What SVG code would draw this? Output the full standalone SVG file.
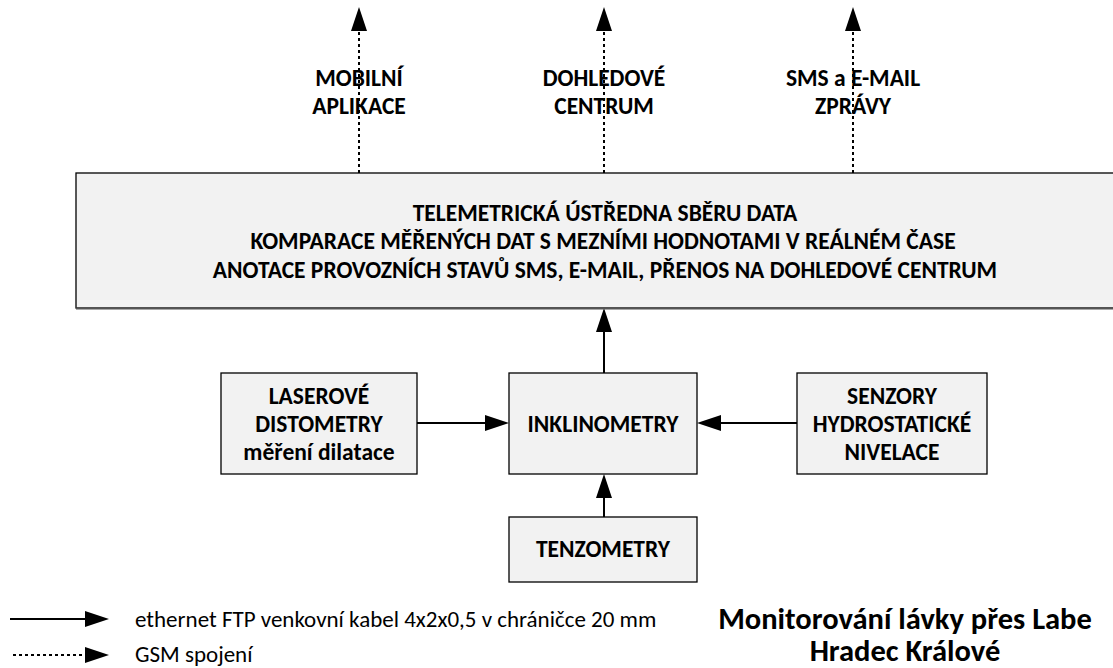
<svg xmlns="http://www.w3.org/2000/svg" width="1113" height="668" viewBox="0 0 1113 668">
<style>
text{font-family:Carlito,"Liberation Sans Narrow","Liberation Sans",sans-serif;fill:#000;text-anchor:middle}
.b{font-weight:bold;font-size:23.5px}
.r{font-size:23px;text-anchor:start}
.t{font-weight:bold;font-size:30.5px}
.box{fill:#f2f2f2;stroke:#000;stroke-width:1.3}
.eth{stroke:#000;stroke-width:2;fill:none}
.gsm{stroke:#000;stroke-width:2;fill:none;stroke-dasharray:3 3}
</style>
<defs>
<marker id="ah" markerUnits="userSpaceOnUse" markerWidth="24" markerHeight="16" refX="0" refY="8" orient="auto" viewBox="0 0 24 16">
<path d="M0,0 L24,8 L0,16 z" fill="#000"/>
</marker>
</defs>
<g id="connectors">
<line class="gsm" x1="359" y1="173" x2="359" y2="31" marker-end="url(#ah)"/>
<line class="gsm" x1="604" y1="173" x2="604" y2="31" marker-end="url(#ah)"/>
<line class="gsm" x1="853" y1="173" x2="853" y2="31" marker-end="url(#ah)"/>
<line class="eth" x1="604" y1="373" x2="604" y2="332" marker-end="url(#ah)"/>
<line class="eth" x1="417" y1="423" x2="485" y2="423" marker-end="url(#ah)"/>
<line class="eth" x1="797" y1="423" x2="721" y2="423" marker-end="url(#ah)"/>
<line class="eth" x1="604" y1="517" x2="604" y2="498" marker-end="url(#ah)"/>
</g>
<g id="labels-top">
<text class="b" x="359" y="86">MOBILNÍ</text>
<text class="b" x="359" y="114">APLIKACE</text>
<text class="b" x="604" y="86">DOHLEDOVÉ</text>
<text class="b" x="604" y="114">CENTRUM</text>
<text class="b" x="853" y="86">SMS a E-MAIL</text>
<text class="b" x="853" y="114">ZPRÁVY</text>
</g>
<g id="telemetrie">
<rect x="76" y="173" width="1050" height="135" class="box"/>
<line x1="76" y1="308.5" x2="1113" y2="308.5" stroke="#555" stroke-width="2"/>
<text class="b" x="605" y="221">TELEMETRICKÁ ÚSTŘEDNA SBĚRU DATA</text>
<text class="b" x="603" y="249">KOMPARACE MĚŘENÝCH DAT S MEZNÍMI HODNOTAMI V REÁLNÉM ČASE</text>
<text class="b" x="605" y="278">ANOTACE PROVOZNÍCH STAVŮ SMS, E-MAIL, PŘENOS NA DOHLEDOVÉ CENTRUM</text>
</g>
<g id="laserove">
<rect x="221" y="373" width="196" height="101" class="box"/>
<text class="b" x="319" y="404">LASEROVÉ</text>
<text class="b" x="319" y="432">DISTOMETRY</text>
<text class="b" x="319" y="460">měření dilatace</text>
</g>
<g id="inklinometry">
<rect x="509" y="373" width="188" height="101" class="box"/>
<text class="b" x="603" y="432">INKLINOMETRY</text>
</g>
<g id="senzory">
<rect x="797" y="373" width="190" height="101" class="box"/>
<text class="b" x="892" y="404">SENZORY</text>
<text class="b" x="892" y="432">HYDROSTATICKÉ</text>
<text class="b" x="892" y="460">NIVELACE</text>
</g>
<g id="tenzometry">
<rect x="509" y="517" width="188" height="65" class="box"/>
<text class="b" x="603" y="557">TENZOMETRY</text>
</g>
<g id="legend">
<line class="eth" x1="10" y1="619" x2="85" y2="619" marker-end="url(#ah)"/>
<line class="gsm" x1="13" y1="655" x2="85" y2="655" marker-end="url(#ah)"/>
<text class="r" x="135" y="627">ethernet FTP venkovní kabel 4x2x0,5 v chráničce 20 mm</text>
<text class="r" x="135" y="662">GSM spojení</text>
</g>
<g id="title">
<text class="t" x="905" y="629">Monitorování lávky přes Labe</text>
<text class="t" x="905" y="661">Hradec Králové</text>
</g>
</svg>
